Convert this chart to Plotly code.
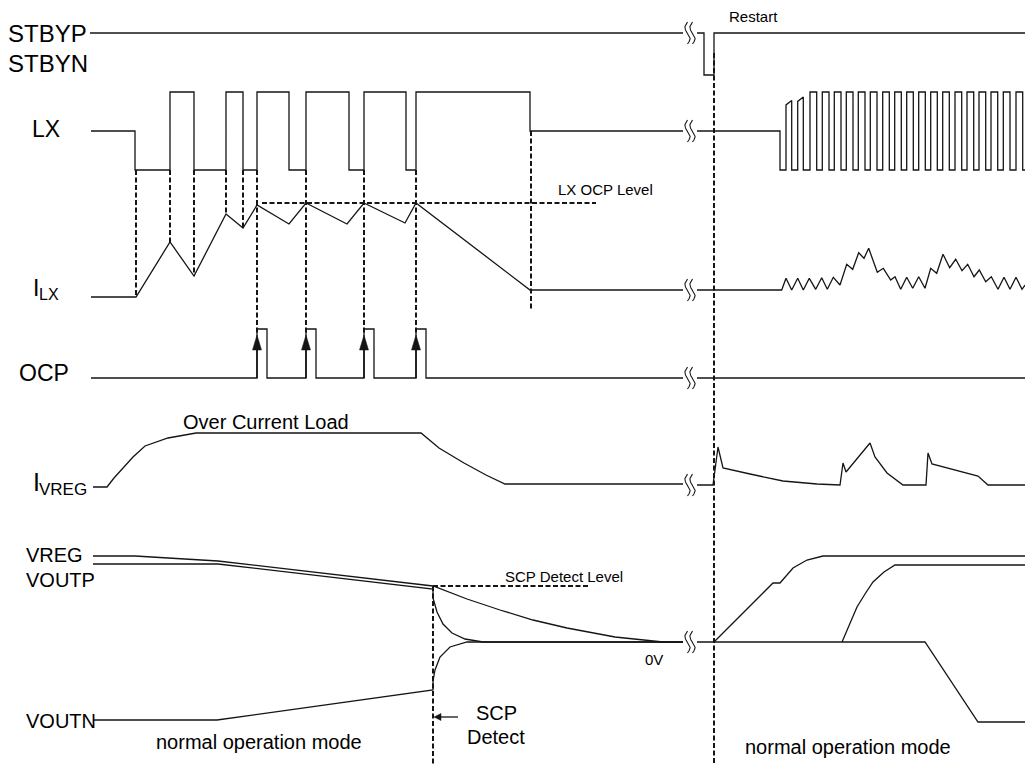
import numpy as np
import plotly.graph_objects as go

FONT = "Liberation Sans, Arial, Helvetica, sans-serif"
INK = "#151515"

# ---------------- lane geometry (pixel baseline, pixels per unit) ----------------
STBY_BASE, STBY_SCALE = 75, 42
LX_BASE, LX_SCALE = 131, 39
ILX_BASE = 297
OCP_BASE, OCP_SCALE = 378, 49
IVREG_BASE = 487
V_BASE = 642

# ---------------- signal data (time in px along the time axis) ----------------
# STBYP/STBYN (1 = high, 0 = low), step signals
STBY_T1 = [90, 683]
STBY_V1 = [1, 1]
STBY_T2 = [697, 704, 714, 1025]
STBY_V2 = [1, 0, 1, 1]

# LX (1 = high, 0 = idle, -1 = low), step signal before the break
LX_T1 = [91, 135, 170, 194, 226, 243, 257, 289, 306, 349, 364, 406, 416, 530, 683]
LX_V1 = [0, -1, 1, -1, 1, -1, 1, -1, 1, -1, 1, -1, 1, 0, 0]
# LX after restart: idle, then switching pulses
LX_IDLE_T = [697, 780]
LX_RISE = [786, 797.7, 810, 822.3, 834.3, 846.3, 858.3, 870.3, 882.7, 894.7,
           906.7, 918.7, 930.7, 942.7, 955, 967, 979, 991, 1003.3, 1016]
LX_FALL = [791.7, 803.3, 816.7, 829, 841, 853, 865, 877, 889.3, 901.3,
           913.3, 925.3, 937.3, 949.3, 961.7, 973.7, 985.7, 997.7, 1010, 1022.7]
LX_TOP_START = [0.67, 0.76, 1, 1, 1, 1, 1, 1, 1, 1, 1, 1, 1, 1, 1, 1, 1, 1, 1, 1]
LX_TOP_END = [0.78, 0.87, 1, 1, 1, 1, 1, 1, 1, 1, 1, 1, 1, 1, 1, 1, 1, 1, 1, 1]

# I_LX (height above baseline)
ILX_T1 = [91, 136, 170, 194, 226, 243, 257, 289, 306, 347, 364, 405, 416, 530, 683]
ILX_V1 = [0, 0, 55, 21, 83, 69, 92, 73, 94, 73, 94, 74, 94, 7, 7]
ILX_T2 = [697, 781.7, 786, 791.7, 797.7, 803.3, 809.3, 815.7, 821.7, 827.3, 833.3,
          840, 846.7, 852.7, 858.7, 864, 868.7, 877.3, 883.3, 890.7, 895, 900.7,
          906.7, 912.7, 918.7, 925, 930.7, 936.7, 943, 949.7, 955.7, 962, 967.7,
          974, 979.3, 985.7, 991.3, 998, 1004, 1010, 1016, 1022, 1025]
ILX_V2 = [7, 7, 18.7, 7, 18.7, 7, 18.7, 7.7, 19.3, 7.7, 19.7,
          12, 32.7, 27.7, 44.3, 38.7, 48.7, 24.7, 28.7, 17, 20.3, 7.7,
          19.7, 8.7, 20.3, 8.7, 28.7, 23.7, 42.7, 29.3, 37.7, 26.3, 32.7,
          20.3, 27, 15.3, 20.3, 7.7, 19.7, 7.7, 19.7, 7.7, 12]
ILX_OCP_LEVEL = 94

# OCP (1 = high, 0 = low)
OCP_T1 = [91, 257, 267, 306, 316, 364, 374, 416, 426, 683]
OCP_V1 = [0, 1, 0, 1, 0, 1, 0, 1, 0, 0]
OCP_T2 = [697, 1025]
OCP_V2 = [0, 0]

# I_VREG (height above baseline)
IVREG_T1 = [93, 107, 114, 121, 133, 145, 168, 196, 421, 439, 464, 486, 505, 683]
IVREG_V1 = [0, 0, 9, 17, 30, 41, 49, 54, 54, 39, 24, 12, 3, 3]
IVREG_T2 = [697, 713, 718, 723, 750, 783, 817, 840, 843, 846, 870, 875, 887, 903,
            926, 928, 932, 978, 988, 1025]
IVREG_V2 = [2, 2, 40, 19, 13, 6, 3, 2, 24, 15, 44, 30, 14, 2, 2, 34, 23, 11, 2, 2]

# Voltages (height above 0V)
VREG_T1 = [93, 135, 218, 433, 467, 500, 533, 567, 615, 663, 683]
VREG_V1 = [86, 86, 81, 56, 43, 32, 22, 14, 5, 0, 0]
VOUTP_T1 = [93, 218, 433, 433, 437, 443, 452, 465, 483, 683]
VOUTP_V1 = [78, 78, 53, 44, 30, 18, 9, 3, 0, 0]
VOUTN_T1 = [93, 217, 433, 433, 435, 440, 450, 467, 683]
VOUTN_V1 = [-78, -78, -48, -39, -28, -15, -5, 0, 0]
VOUTN_T2 = [697, 925, 978, 1025]
VOUTN_V2 = [0, 0, -80, -80]
VREG_T2 = [714, 773, 780, 793, 807, 823, 1025]
VREG_V2 = [0, 59, 59, 74, 82, 86, 86]
VOUTP_T2 = [842, 849, 857, 865, 873, 884, 895, 1025]
VOUTP_V2 = [0, 17, 35, 48, 60, 70, 77, 77]
SCP_LEVEL = 56

# Event times
SCP_T = 433
RESTART_T = 714
BREAK_T = (683, 697)
ILX_EVENT_T = [136, 170, 194, 226, 243]
LX_END_T = 531
OCP_EDGE_T = [257, 306, 364, 416]

fig = go.Figure()


def line(x, y, width=1.3, dash=None, shape="linear"):
    fig.add_trace(go.Scatter(x=list(x), y=list(y), mode="lines",
                             line=dict(color=INK, width=width, dash=dash, shape=shape),
                             hoverinfo="skip", showlegend=False))


def dashed(x, y):
    line(x, y, width=2, dash="5px,2.5px")


def tri(pts):
    xs = [p[0] for p in pts] + [pts[0][0]]
    ys = [p[1] for p in pts] + [pts[0][1]]
    fig.add_trace(go.Scatter(x=xs, y=ys, mode="lines", fill="toself", fillcolor=INK,
                             line=dict(color=INK, width=0.5), hoverinfo="skip",
                             showlegend=False))


def lane(base, scale, vals):
    return [base - scale * v for v in vals]


# STBY
line(STBY_T1, lane(STBY_BASE, STBY_SCALE, STBY_V1))
line(STBY_T2, lane(STBY_BASE, STBY_SCALE, STBY_V2), shape="hv")

# LX
line(LX_T1, lane(LX_BASE, LX_SCALE, LX_V1), shape="hv")
lx_x = [LX_IDLE_T[0], LX_IDLE_T[1], LX_IDLE_T[1]]
lx_v = [0, 0, -1]
for r, f, a, b in zip(LX_RISE, LX_FALL, LX_TOP_START, LX_TOP_END):
    lx_x += [r, r, f, f]
    lx_v += [-1, a, b, -1]
lx_x.append(1025)
lx_v.append(-1)
line(lx_x, lane(LX_BASE, LX_SCALE, lx_v))

# ILX
line(ILX_T1, lane(ILX_BASE, 1, ILX_V1))
line(ILX_T2, lane(ILX_BASE, 1, ILX_V2))

# OCP
line(OCP_T1, lane(OCP_BASE, OCP_SCALE, OCP_V1), shape="hv")
line(OCP_T2, lane(OCP_BASE, OCP_SCALE, OCP_V2))

# IVREG
line(IVREG_T1, lane(IVREG_BASE, 1, IVREG_V1))
line(IVREG_T2, lane(IVREG_BASE, 1, IVREG_V2))

# Voltages
for t, v in [(VREG_T1, VREG_V1), (VOUTP_T1, VOUTP_V1), (VOUTN_T1, VOUTN_V1),
             (VOUTN_T2, VOUTN_V2), (VREG_T2, VREG_V2), (VOUTP_T2, VOUTP_V2)]:
    line(t, lane(V_BASE, 1, v))

# Break marks
lane_y_at_break = [lane(STBY_BASE, STBY_SCALE, [1])[0], LX_BASE, ILX_BASE - ILX_V1[-1],
                   OCP_BASE, IVREG_BASE - IVREG_V2[0], V_BASE]
s = np.linspace(-1, 1, 40)
for yc in lane_y_at_break:
    for xc in (BREAK_T[0] + 4.5, BREAK_T[0] + 9.5):
        line(xc + 2.6 * np.sin(np.pi * s), yc + 11 * s, width=1.1)

# Dashed helpers
lx_low = LX_BASE + LX_SCALE
for t in ILX_EVENT_T:
    i = ILX_T1.index(t) if t in ILX_T1 else None
    v = ILX_V1[i] if i is not None else 0
    dashed([t, t], [lx_low, ILX_BASE - v])
dashed([LX_END_T, LX_END_T], [LX_BASE, 310])
ocp_tip = OCP_BASE - OCP_SCALE + 6
for t in OCP_EDGE_T:
    dashed([t, t], [lx_low, ocp_tip])
    line([t, t], [OCP_BASE, ocp_tip + 14], width=1.6)
    tri([(t, ocp_tip), (t - 4.5, ocp_tip + 15), (t + 4.5, ocp_tip + 15)])
dashed([262, 596], [ILX_BASE - ILX_OCP_LEVEL] * 2)
dashed([SCP_T, 590], [V_BASE - SCP_LEVEL] * 2)
dashed([SCP_T, SCP_T], [V_BASE - SCP_LEVEL, 765])
dashed([RESTART_T, RESTART_T], [53, 765])
# SCP detect arrow
line([458, 440], [717, 717], width=1.3)
tri([(434, 717), (441, 713.5), (441, 720.5)])

# ---------------- text ----------------
ann = []


def txt(x, y, s, size, xanchor="left"):
    ann.append(dict(x=x, y=y, text=s, xref="x", yref="y", showarrow=False,
                    xanchor=xanchor, yanchor="middle",
                    font=dict(family=FONT, size=size, color="#000000")))


txt(6, 33, "STBYP", 24)
txt(6, 63, "STBYN", 24)
txt(30, 129, "LX", 23)
txt(30.5, 288, "I", 23)
txt(36.5, 294, "LX", 16)
txt(17, 373, "OCP", 23)
txt(30.5, 482, "I", 25)
txt(36.5, 489, "VREG", 17)
txt(266, 422, "Over Current Load", 20, "center")
txt(556, 189, "LX OCP Level", 15)
txt(727, 16, "Restart", 15)
txt(24, 555, "VREG", 20)
txt(24, 580, "VOUTP", 20)
txt(24, 721, "VOUTN", 20)
txt(259, 742, "normal operation mode", 20, "center")
txt(848, 747, "normal operation mode", 20, "center")
txt(503, 576, "SCP Detect Level", 15)
txt(643, 659, "0V", 15)
txt(496, 713, "SCP", 20, "center")
txt(496, 737, "Detect", 20, "center")

fig.update_layout(
    width=1025, height=765,
    margin=dict(l=0, r=0, t=0, b=0),
    paper_bgcolor="white", plot_bgcolor="white",
    xaxis=dict(range=[0, 1025], visible=False, fixedrange=True),
    yaxis=dict(range=[765, 0], visible=False, fixedrange=True),
    annotations=ann,
    showlegend=False,
)

fig.write_html("out.html", config={"displayModeBar": False, "staticPlot": True},
               post_script="document.body.style.margin='0';document.body.style.overflow='hidden';")
